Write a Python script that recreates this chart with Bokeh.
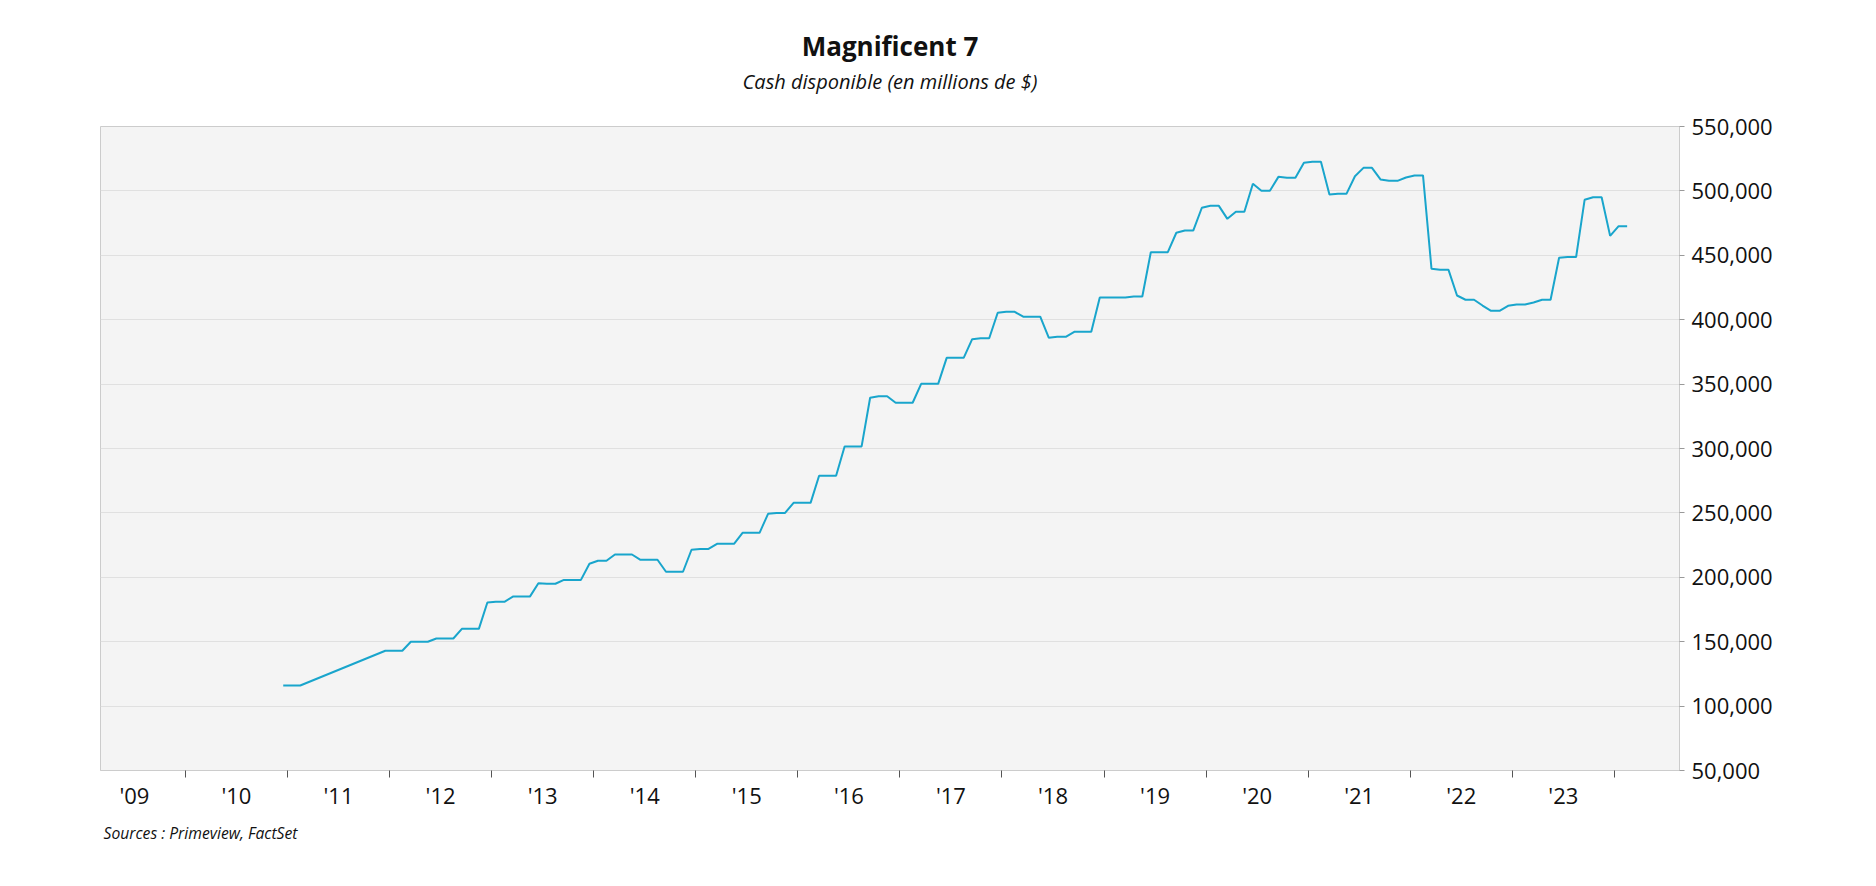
from bokeh.plotting import figure
from bokeh.models import (Range1d, FixedTicker, NumeralTickFormatter, Title,
                          ColumnDataSource)
from bokeh.embed import file_html
from bokeh.resources import INLINE

# ---- data (millions of $) ----
months = [
    "2010-12", "2011-01", "2011-02", "2011-12",
    "2012-01", "2012-02", "2012-03", "2012-04", "2012-05", "2012-06",
    "2012-07", "2012-08", "2012-09", "2012-10", "2012-11", "2012-12",
    "2013-01", "2013-02", "2013-03", "2013-04", "2013-05", "2013-06",
    "2013-07", "2013-08", "2013-09", "2013-10", "2013-11", "2013-12",
    "2014-01", "2014-02", "2014-03", "2014-04", "2014-05", "2014-06",
    "2014-07", "2014-08", "2014-09", "2014-10", "2014-11", "2014-12",
    "2015-01", "2015-02", "2015-03", "2015-04", "2015-05", "2015-06",
    "2015-07", "2015-08", "2015-09", "2015-10", "2015-11", "2015-12",
    "2016-01", "2016-02", "2016-03", "2016-04", "2016-05", "2016-06",
    "2016-07", "2016-08", "2016-09", "2016-10", "2016-11", "2016-12",
    "2017-01", "2017-02", "2017-03", "2017-04", "2017-05", "2017-06",
    "2017-07", "2017-08", "2017-09", "2017-10", "2017-11", "2017-12",
    "2018-01", "2018-02", "2018-03", "2018-04", "2018-05", "2018-06",
    "2018-07", "2018-08", "2018-09", "2018-10", "2018-11", "2018-12",
    "2019-01", "2019-02", "2019-03", "2019-04", "2019-05", "2019-06",
    "2019-07", "2019-08", "2019-09", "2019-10", "2019-11", "2019-12",
    "2020-01", "2020-02", "2020-03", "2020-04", "2020-05", "2020-06",
    "2020-07", "2020-08", "2020-09", "2020-10", "2020-11", "2020-12",
    "2021-01", "2021-02", "2021-03", "2021-04", "2021-05", "2021-06",
    "2021-07", "2021-08", "2021-09", "2021-10", "2021-11", "2021-12",
    "2022-01", "2022-02", "2022-03", "2022-04", "2022-05", "2022-06",
    "2022-07", "2022-08", "2022-09", "2022-10", "2022-11", "2022-12",
    "2023-01", "2023-02", "2023-03", "2023-04", "2023-05", "2023-06",
    "2023-07", "2023-08", "2023-09", "2023-10", "2023-11", "2023-12",
    "2024-01", "2024-02",
]
cash = [
    116000, 116000, 116000, 143000,
    143000, 143000, 150000, 150000, 150000, 152500,
    152500, 152500, 160000, 160000, 160000, 180400,
    181000, 181000, 185000, 185000, 185000, 195400,
    195000, 195000, 198000, 198000, 198000, 210500,
    212800, 212800, 217700, 217700, 217700, 213600,
    213600, 213600, 204300, 204300, 204300, 221400,
    222000, 222000, 226000, 226000, 226000, 234500,
    234500, 234500, 249300, 250000, 250000, 257800,
    257800, 257800, 278800, 278800, 278800, 301600,
    301600, 301600, 339400, 340600, 340600, 335500,
    335500, 335500, 350200, 350200, 350200, 370400,
    370400, 370400, 384900, 385600, 385600, 405400,
    406100, 406100, 402300, 402300, 402300, 386000,
    386700, 386700, 390600, 390600, 390600, 417200,
    417200, 417200, 417200, 418000, 418000, 452400,
    452400, 452400, 467500, 469300, 469300, 486900,
    488400, 488400, 478300, 483800, 483800, 505500,
    500100, 500100, 510900, 510200, 510200, 521800,
    522600, 522600, 497200, 497700, 497700, 511400,
    517900, 517900, 508900, 507800, 507800, 510400,
    512000, 512000, 439500, 438700, 438700, 418800,
    415500, 415500, 411000, 406900, 406900, 410800,
    411800, 411800, 413400, 415500, 415500, 448100,
    448600, 448600, 493100, 495100, 495100, 465100,
    472600, 472600,
]
years = list(range(2009, 2024))
year_labels = ["'09", "'10", "'11", "'12", "'13", "'14", "'15", "'16",
               "'17", "'18", "'19", "'20", "'21", "'22", "'23"]
y_ticks = [50000, 100000, 150000, 200000, 250000, 300000,
           350000, 400000, 450000, 500000, 550000]

TITLE = "Magnificent 7"
SUBTITLE = "Cash disponible (en millions de $)"
SOURCE = "Sources : Primeview, FactSet"

FONT = "Open Sans"
LINE_COLOR = "#19a5cc"

# fractional-year positions (mid-month)
xs = [int(m[:4]) + (int(m[5:]) - 0.5) / 12.0 for m in months]
src = ColumnDataSource(data=dict(x=xs, y=cash))

p = figure(
    frame_width=1579, frame_height=644,
    x_range=Range1d(2009.168, 2024.638),
    y_range=Range1d(50000, 550000),
    y_axis_location="right",
    output_backend="svg", toolbar_location=None, title=None,
    min_border_left=100, min_border_right=100,
    min_border_top=126, min_border_bottom=80,
    background_fill_color="#f4f4f4",
    border_fill_color="white",
    outline_line_color="#cccccc",
)

p.line("x", "y", source=src, line_color=LINE_COLOR, line_width=2)

# titles (first added sits nearest to the plot)
p.add_layout(Title(text=SUBTITLE, align="center", text_font=FONT,
                   text_font_size="20px", text_font_style="italic",
                   text_color="#111111", standoff=64), "above")
p.add_layout(Title(text=TITLE, align="center", text_font=FONT,
                   text_font_size="26px", text_font_style="bold",
                   text_color="#111111", standoff=-60), "above")
p.add_layout(Title(text=SOURCE, align="left", text_font=FONT,
                   text_font_size="15.7px", text_font_style="italic",
                   text_color="#111111", offset=3, standoff=14), "below")

# x axis: labels at mid-year, tick marks at year boundaries
xa = p.xaxis[0]
xa.ticker = FixedTicker(ticks=[y + 0.5 for y in years],
                        minor_ticks=[y + 1 for y in years])
xa.major_label_overrides = {y + 0.5: lab for y, lab in zip(years, year_labels)}
xa.major_tick_out = 0
xa.major_tick_in = 0
xa.minor_tick_out = 7
xa.minor_tick_in = 0
xa.minor_tick_line_color = "#555555"
xa.axis_line_color = "#cccccc"
xa.major_label_text_font = FONT
xa.major_label_text_font_size = "22px"
xa.major_label_text_color = "#111111"
xa.major_label_standoff = 2

ya = p.yaxis[0]
ya.ticker = FixedTicker(ticks=y_ticks)
ya.formatter = NumeralTickFormatter(format="0,0")
ya.major_tick_out = 5
ya.major_tick_in = 0
ya.minor_tick_out = 0
ya.minor_tick_in = 0
ya.major_tick_line_color = "#999999"
ya.axis_line_color = "#cccccc"
ya.major_label_text_font = FONT
ya.major_label_text_font_size = "22px"
ya.major_label_text_color = "#111111"
ya.major_label_standoff = 7

p.xgrid.grid_line_color = None
p.ygrid.grid_line_color = "#e0e0e0"
p.ygrid.ticker = FixedTicker(ticks=y_ticks)

open("out.html", "w").write(file_html(p, INLINE))
